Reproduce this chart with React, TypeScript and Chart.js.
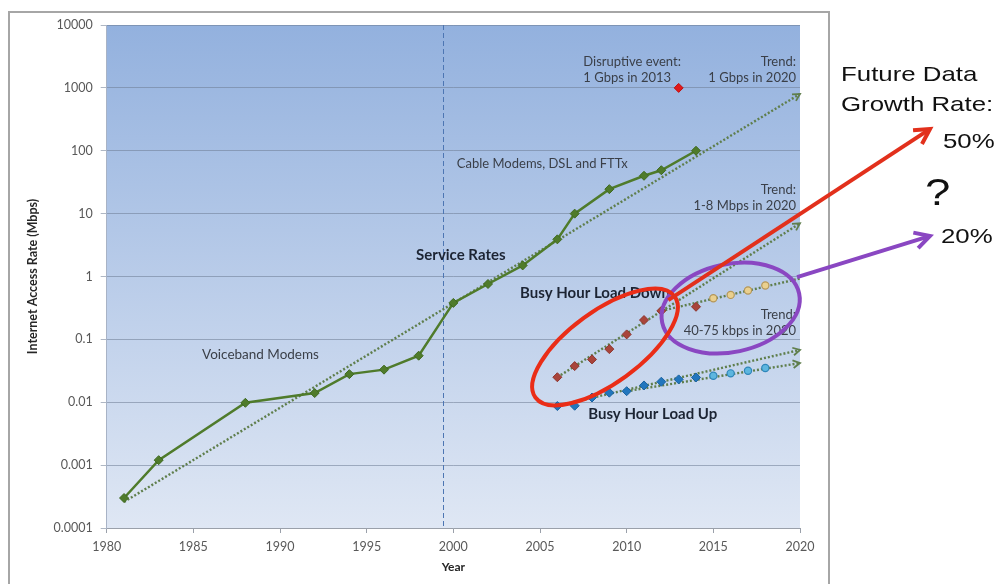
import React, { useEffect, useRef } from "react";
import { Chart, registerables } from "chart.js";

Chart.register(...registerables);

// ---------- data (Mbps, log scale) ----------
const serviceYears = [1981, 1983, 1988, 1992, 1994, 1996, 1998, 2000, 2002, 2004, 2006, 2007, 2009, 2011, 2012, 2014];
const serviceRates = [0.0003, 0.0012, 0.0098, 0.014, 0.028, 0.033, 0.055, 0.38, 0.76, 1.5, 3.9, 10, 24.5, 40, 49, 100];
const serviceTrendYears = [1981, 2020];
const serviceTrendRates = [0.00026, 800];
const disruptiveYears = [2013];
const disruptiveRates = [1000];

const downYears = [2006, 2007, 2008, 2009, 2010, 2011, 2012, 2014];
const downRates = [0.025, 0.0376, 0.048, 0.07, 0.12, 0.203, 0.284, 0.33];
const downProjYears = [2015, 2016, 2017, 2018];
const downProjRates = [0.45, 0.51, 0.6, 0.72];
const downFastTrendYears = [2006, 2020];
const downFastTrendRates = [0.025, 7];
const downSlowTrendYears = [2012, 2020];
const downSlowTrendRates = [0.284, 0.93];

const upYears = [2006, 2007, 2008, 2009, 2010, 2011, 2012, 2013, 2014];
const upRates = [0.0087, 0.0088, 0.0119, 0.0142, 0.015, 0.0185, 0.0212, 0.0231, 0.0248];
const upProjYears = [2015, 2016, 2017, 2018];
const upProjRates = [0.0264, 0.0288, 0.0317, 0.035];
const upHighTrendYears = [2006, 2020];
const upHighTrendRates = [0.0088, 0.068];
const upLowTrendYears = [2010, 2020];
const upLowTrendRates = [0.015, 0.042];

const dividerYear = 1999.4;

const xMin = 1980;
const xMax = 2020;
const xStep = 5;
const yTickValues = [0.0001, 0.001, 0.01, 0.1, 1, 10, 100, 1000, 10000];
const yTickLabels = ["0.0001", "0.001", "0.01", "0.1", "1", "10", "100", "1000", "10000"];

const yTitle = "Internet Access Rate (Mbps)";
const xTitle = "Year";

// ---------- annotations (in data coordinates) ----------
type Note = { x: number; y: number; lines: string[]; align: CanvasTextAlign; bold?: boolean; size: number };
const notes: Note[] = [
  { x: 2007.5, y: 2579, lines: ["Disruptive event:", "1 Gbps in 2013"], align: "left", size: 13 },
  { x: 2019.77, y: 2579, lines: ["Trend:", "1 Gbps in 2020"], align: "right", size: 13 },
  { x: 2000.2, y: 61.5, lines: ["Cable Modems, DSL and FTTx"], align: "left", size: 13 },
  { x: 2019.77, y: 23.8, lines: ["Trend:", "1-8 Mbps in 2020"], align: "right", size: 13 },
  { x: 1997.85, y: 2.2, lines: ["Service Rates"], align: "left", bold: true, size: 15 },
  { x: 2003.85, y: 0.547, lines: ["Busy Hour Load Down"], align: "left", bold: true, size: 15 },
  { x: 2019.77, y: 0.244, lines: ["Trend:", "40-75 kbps in 2020"], align: "right", size: 13 },
  { x: 2007.78, y: 0.0065, lines: ["Busy Hour Load Up"], align: "left", bold: true, size: 15 },
  { x: 1985.5, y: 0.0564, lines: ["Voiceband Modems"], align: "left", size: 13.5 },
];

const ellipses = [
  { x: 2016.0, y: 0.315, rx: 70, ry: 44, rot: -12, color: "#8a47c2" },
  { x: 2008.75, y: 0.0757, rx: 86, ry: 36, rot: -36, color: "#ea2d17" },
];
const bigArrows = [
  { x1: 2019.83, y1: 0.98, x2: 2027.5, y2: 4.4, color: "#8a47c2" },
  { x1: 2012.4, y1: 0.42, x2: 2027.5, y2: 222, color: "#e2301c" },
];

const sideTexts = [
  { text: "Future Data", x: 841, y: 75, size: 21 },
  { text: "Growth Rate:", x: 841, y: 105, size: 21 },
  { text: "50%", x: 943, y: 142, size: 21 },
  { text: "?", x: 925, y: 195, size: 37 },
  { text: "20%", x: 941, y: 237, size: 21 },
];

const pts = (xs: number[], ys: number[]) => xs.map((x, i) => ({ x, y: ys[i] }));

const trendColor = "#5f7e4c";
const arrowSets = ["serviceTrend", "downFast", "upHigh", "upLow"];

const overlayPlugin = {
  id: "overlay",
  beforeDraw(chart: any) {
    const { ctx, chartArea: a } = chart;
    ctx.save();
    ctx.fillStyle = "#ffffff";
    ctx.fillRect(0, 0, chart.width, chart.height);
    ctx.strokeStyle = "#a6a6a6";
    ctx.lineWidth = 2;
    ctx.strokeRect(9, 12, 820, 700);
    const g = ctx.createLinearGradient(0, a.top, 0, a.bottom);
    g.addColorStop(0, "#93b1de");
    g.addColorStop(1, "#dfe7f4");
    ctx.fillStyle = g;
    ctx.fillRect(a.left, a.top, a.right - a.left, a.bottom - a.top);
    ctx.restore();
  },
  beforeDatasetsDraw(chart: any) {
    const { ctx, chartArea: a, scales } = chart;
    const x = Math.round(scales.x.getPixelForValue(dividerYear)) + 0.5;
    ctx.save();
    ctx.strokeStyle = "#4d76b3";
    ctx.lineWidth = 1;
    ctx.setLineDash([5, 3]);
    ctx.beginPath();
    ctx.moveTo(x, a.top);
    ctx.lineTo(x, a.bottom);
    ctx.stroke();
    ctx.restore();
  },
  afterDatasetsDraw(chart: any) {
    const { ctx, scales } = chart;
    const X = (v: number) => scales.x.getPixelForValue(v);
    const Y = (v: number) => scales.y.getPixelForValue(v);
    ctx.save();

    // small arrowheads on trend lines
    chart.data.datasets.forEach((ds: any, i: number) => {
      if (!arrowSets.includes(ds.id)) return;
      const d = chart.getDatasetMeta(i).data;
      const p1 = d[d.length - 2];
      const p2 = d[d.length - 1];
      const ang = Math.atan2(p2.y - p1.y, p2.x - p1.x);
      const L = 8;
      ctx.strokeStyle = trendColor;
      ctx.lineWidth = 1.8;
      ctx.setLineDash([]);
      ctx.beginPath();
      ctx.moveTo(p2.x - L * Math.cos(ang - 0.5), p2.y - L * Math.sin(ang - 0.5));
      ctx.lineTo(p2.x, p2.y);
      ctx.lineTo(p2.x - L * Math.cos(ang + 0.5), p2.y - L * Math.sin(ang + 0.5));
      ctx.stroke();
    });

    // annotation texts
    ctx.textBaseline = "middle";
    notes.forEach((n) => {
      ctx.font = `${n.bold ? "bold " : ""}${n.size}px Lato`;
      ctx.fillStyle = n.bold ? "#1c2433" : "#3a3f48";
      ctx.textAlign = n.align;
      n.lines.forEach((t, k) => ctx.fillText(t, X(n.x), Y(n.y) + k * 16));
    });

    // ellipses
    ellipses.forEach((e) => {
      ctx.strokeStyle = e.color;
      ctx.lineWidth = 4;
      ctx.beginPath();
      ctx.ellipse(X(e.x), Y(e.y), e.rx, e.ry, (e.rot * Math.PI) / 180, 0, Math.PI * 2);
      ctx.stroke();
    });

    // big arrows
    bigArrows.forEach((ar) => {
      const x1 = X(ar.x1), y1 = Y(ar.y1), x2 = X(ar.x2), y2 = Y(ar.y2);
      const ang = Math.atan2(y2 - y1, x2 - x1);
      ctx.strokeStyle = ar.color;
      ctx.lineWidth = 4;
      ctx.lineCap = "butt";
      ctx.beginPath();
      ctx.moveTo(x1, y1);
      ctx.lineTo(x2 - 3 * Math.cos(ang), y2 - 3 * Math.sin(ang));
      ctx.stroke();
      const L = 17;
      ctx.lineJoin = "miter";
      ctx.beginPath();
      ctx.moveTo(x2 - L * Math.cos(ang - 0.5), y2 - L * Math.sin(ang - 0.5));
      ctx.lineTo(x2, y2);
      ctx.lineTo(x2 - L * Math.cos(ang + 0.5), y2 - L * Math.sin(ang + 0.5));
      ctx.stroke();
    });

    // side texts
    sideTexts.forEach((s) => {
      ctx.save();
      ctx.translate(s.x, s.y);
      ctx.scale(1.23, 1);
      ctx.font = `${s.size}px "Liberation Sans", Arial, sans-serif`;
      ctx.fillStyle = "#111111";
      ctx.textAlign = "left";
      ctx.textBaseline = "middle";
      ctx.fillText(s.text, 0, 0);
      ctx.restore();
    });

    ctx.restore();
  },
};

export default function App() {
  const ref = useRef<HTMLCanvasElement>(null);

  useEffect(() => {
    if (!ref.current) return;
    const diamond = (color: string, border: string, r = 4.5) => ({
      pointStyle: "rectRot",
      pointRadius: r,
      pointBackgroundColor: color,
      pointBorderColor: border,
      pointBorderWidth: 1,
    });
    const circle = (color: string, border: string) => ({
      pointStyle: "circle",
      pointRadius: 3.6,
      pointBackgroundColor: color,
      pointBorderColor: border,
      pointBorderWidth: 1.2,
    });
    const trend = (id: string, xs: number[], ys: number[]) => ({
      id,
      data: pts(xs, ys),
      borderColor: trendColor,
      borderWidth: 2.4,
      borderDash: [2, 2],
      pointRadius: 0,
      fill: false,
      order: 3,
    });

    const chart = new Chart(ref.current, {
      type: "line",
      data: {
        datasets: [
          trend("serviceTrend", serviceTrendYears, serviceTrendRates),
          trend("downFast", downFastTrendYears, downFastTrendRates),
          trend("downSlow", downSlowTrendYears, downSlowTrendRates),
          trend("upHigh", upHighTrendYears, upHighTrendRates),
          trend("upLow", upLowTrendYears, upLowTrendRates),
          {
            id: "service",
            data: pts(serviceYears, serviceRates),
            borderColor: "#4f7b2b",
            borderWidth: 2.5,
            ...diamond("#4f7b2b", "#3f6a20"),
            order: 2,
          },
          {
            id: "disruptive",
            data: pts(disruptiveYears, disruptiveRates),
            showLine: false,
            ...diamond("#e1191b", "#c01010"),
            order: 1,
          },
          {
            id: "down",
            data: pts(downYears, downRates),
            showLine: false,
            ...diamond("#a9443b", "#8e352d"),
            order: 1,
          },
          {
            id: "downProj",
            data: pts(downProjYears, downProjRates),
            showLine: false,
            ...circle("#ead08e", "#b4975a"),
            order: 1,
          },
          {
            id: "up",
            data: pts(upYears, upRates),
            showLine: false,
            ...diamond("#2276bd", "#1a62a0"),
            order: 1,
          },
          {
            id: "upProj",
            data: pts(upProjYears, upProjRates),
            showLine: false,
            ...circle("#5db6df", "#2f86ba"),
            order: 1,
          },
        ] as any,
      },
      options: {
        responsive: false,
        animation: false,
        events: [],
        layout: { padding: { left: 0, right: 198, top: 25, bottom: 0 } },
        plugins: { legend: { display: false }, tooltip: { enabled: false } },
        scales: {
          x: {
            type: "linear",
            min: xMin,
            max: xMax,
            afterFit: (s: any) => {
              s.height = 56;
            },
            ticks: {
              stepSize: xStep,
              padding: 6,
              color: "#595959",
              font: { family: "Lato", size: 12.5 },
              callback: (v: any) => String(v),
            },
            grid: { drawOnChartArea: false, drawTicks: true, tickLength: 5, color: "#9aa0aa" },
            border: { display: true, color: "#9aa0aa" },
            title: {
              display: true,
              text: xTitle,
              color: "#262626",
              font: { family: "Lato", size: 12, weight: "bold" },
              padding: { top: 0, bottom: 10 },
            },
          },
          y: {
            type: "logarithmic",
            min: yTickValues[0],
            max: yTickValues[yTickValues.length - 1],
            afterFit: (s: any) => {
              s.width = 106.7;
            },
            afterBuildTicks: (s: any) => {
              s.ticks = yTickValues.map((v) => ({ value: v }));
            },
            ticks: {
              padding: 8,
              color: "#595959",
              font: { family: "Lato", size: 12.5 },
              callback: (_v: any, i: number) => yTickLabels[i],
            },
            grid: { color: "rgba(110,124,148,0.55)", tickLength: 6, lineWidth: 1 },
            border: { display: true, color: "#a8b3c6" },
            title: {
              display: true,
              text: yTitle,
              color: "#262626",
              font: { family: "Lato", size: 12.5, weight: "bold" },
              padding: { top: 25, bottom: 0 },
            },
          },
        },
      } as any,
      plugins: [overlayPlugin],
    });
    return () => chart.destroy();
  }, []);

  return (
    <div style={{ position: "absolute", left: 0, top: 0, width: 998, height: 584 }}>
      <canvas ref={ref} width={998} height={584} style={{ display: "block" }} />
    </div>
  );
}
